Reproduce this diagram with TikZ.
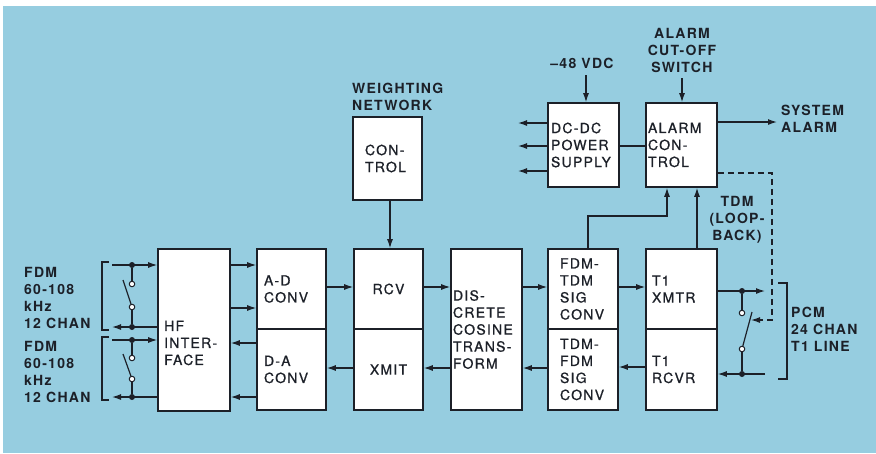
\documentclass[tikz,border=0pt]{standalone}
\usepackage{fontspec}
\setmainfont{TeX Gyre Heros}[LetterSpace=9]
\newfontfamily\boxfont{TeX Gyre Heros}[LetterSpace=9, FakeBold=0.9]
\usetikzlibrary{arrows.meta}
\definecolor{bgblue}{RGB}{150,205,224}
\definecolor{ink}{RGB}{28,32,40}
\tikzset{
  box/.style={draw=ink, line width=1.6pt, fill=white, inner ysep=0pt, align=left, text=ink,
    font=\boxfont\fontsize{14}{17}\selectfont},
  boxtxt/.style={text=ink, inner sep=0pt, align=left, font=\boxfont\fontsize{14}{17}\selectfont},
  lbl/.style={text=ink, font=\fontsize{14}{17}\selectfont\bfseries, inner sep=0pt, align=left},
  ln/.style={draw=ink, line width=1.2pt},
  arr/.style={ln, -{Latex[length=9pt,width=6pt]}},
  dot/.style={circle, fill=ink, inner sep=0pt, minimum size=6pt},
  ocirc/.style={circle, draw=ink, fill=white, line width=1pt, inner sep=0pt, minimum size=5.5pt},
}
\begin{document}
\begin{tikzpicture}[x=1pt,y=-1pt]
\useasboundingbox (0,0) rectangle (876,453);
\fill[white] (0,0) rectangle (876,453);
\fill[bgblue] (3,6) rectangle (876,453);

% boxes
\node[box, minimum width=72pt, minimum height=162pt] (hf) at (194,330) {};
\node[boxtxt, anchor=west] (hft) at (164,343) {HF\\INTER-\\FACE};
\node[box, minimum width=69pt, minimum height=80pt, text width=55pt, inner xsep=7pt] (ad) at (291.5,289) {A-D\\CONV};
\node[box, minimum width=69pt, minimum height=81pt, text width=55pt, inner xsep=7pt] (da) at (291.5,369.5) {D-A\\CONV};
\node[box, minimum width=69pt, minimum height=80pt, text width=55pt, inner xsep=7pt, align=center] (rcv) at (388.5,289) {RCV};
\node[box, minimum width=69pt, minimum height=81pt, text width=55pt, inner xsep=7pt, align=center] (xmit) at (388.5,369.5) {XMIT};
\node[box, minimum width=71pt, minimum height=161pt, text width=67pt, inner xsep=2pt] (dct) at (486.5,329.5) {DIS-\\CRETE\\COSINE\\TRANS-\\FORM};
\node[box, minimum width=70pt, minimum height=80pt, text width=46pt, inner xsep=12pt] (ft) at (583,289) {FDM-\\TDM\\SIG\\CONV};
\node[box, minimum width=70pt, minimum height=81pt, text width=46pt, inner xsep=12pt] (tf) at (583,369.5) {TDM-\\FDM\\SIG\\CONV};
\node[box, minimum width=71pt, minimum height=80pt, text width=59pt, inner xsep=6pt] (xmtr) at (681.5,289) {T1\\XMTR};
\node[box, minimum width=71pt, minimum height=81pt, text width=59pt, inner xsep=6pt] (rcvr) at (681.5,369.5) {T1\\RCVR};
\node[box, minimum width=69pt, minimum height=83pt, text width=45pt, inner xsep=12pt] (ctl) at (387.5,158.5) {CON-\\TROL};
\node[box, minimum width=71pt, minimum height=84pt, text width=65pt, inner xsep=3pt] (dcdc) at (583.5,145) {DC-DC\\POWER\\SUPPLY};
\node[box, minimum width=71pt, minimum height=84pt, text width=67pt, inner xsep=2pt] (alarm) at (681.5,145) {ALARM\\CON-\\TROL};

% labels
\node[lbl, anchor=west] (fdm1) at (24,297.5) {FDM\\60-108\\kHz\\12 CHAN};
\node[lbl, anchor=west] (fdm2) at (24,371.5) {FDM\\60-108\\kHz\\12 CHAN};
\node[lbl, anchor=west] (wn) at (352,97) {WEIGHTING\\NETWORK};
\node[lbl] (vdc) at (582,63) {–48 VDC};
\node[lbl, align=center] (acs) at (682,50) {ALARM\\CUT-OFF\\SWITCH};
\node[lbl, anchor=west] (sys) at (781,119) {SYSTEM\\ALARM};
\node[lbl, align=center] (tdm) at (737,220) {TDM\\(LOOP-\\BACK)};
\node[lbl, anchor=west] (pcm) at (791,329) {PCM\\24 CHAN\\T1 LINE};

% box-to-box connectors
\draw[arr] (hf.east |- 0,265) -- (ad.west |- 0,265);
\draw[arr] (hf.east |- 0,308) -- (ad.west |- 0,308);
\draw[arr] (da.west |- 0,343) -- (hf.east |- 0,343);
\draw[arr] (da.west |- 0,397) -- (hf.east |- 0,397);
\draw[arr] (ad.east |- 0,287) -- (rcv.west |- 0,287);
\draw[arr] (rcv.east |- 0,287) -- (dct.west |- 0,287);
\draw[arr] (dct.east |- 0,287) -- (ft.west |- 0,287);
\draw[arr] (ft.east |- 0,287) -- (xmtr.west |- 0,287);
\draw[arr] (rcvr.west |- 0,367) -- (tf.east |- 0,367);
\draw[arr] (tf.west |- 0,368) -- (dct.east |- 0,368);
\draw[arr] (dct.west |- 0,368) -- (xmit.east |- 0,368);
\draw[arr] (xmit.west |- 0,368) -- (da.east |- 0,368);
\draw[arr] (ctl.south -| 390,0) -- (rcv.north -| 390,0);
\draw[arr] (ft.north -| 588,0) |- (667,216) -- (alarm.south -| 667,0);
\draw[arr] (xmtr.north -| 697,0) -- (alarm.south -| 697,0);
\draw[ln] (dcdc.east |- 0,146) -- (alarm.west |- 0,146);

% power / alarm I/O
\coordinate (p1) at (518,123);
\coordinate (p2) at (518,146);
\coordinate (p3) at (518,171);
\draw[arr] (dcdc.west |- p1) -- (p1);
\draw[arr] (dcdc.west |- p2) -- (p2);
\draw[arr] (dcdc.west |- p3) -- (p3);
\coordinate (vin) at (586,75);
\draw[arr] (vin) -- (dcdc.north -| vin);
\coordinate (sw) at (682,78);
\draw[arr] (sw) -- (alarm.north -| sw);
\coordinate (sa) at (777,122);
\draw[arr] (alarm.east |- sa) -- (sa);

% left FDM ports
\coordinate (i1) at (112,265);
\coordinate (o1) at (112,327);
\coordinate (i2) at (112,340);
\coordinate (o2) at (112,397);
\draw[arr] (i1) -- (i1 -| hf.west);
\draw[arr] (o1 -| hf.west) -- (o1);
\draw[arr] (i2) -- (i2 -| hf.west);
\draw[arr] (o2 -| hf.west) -- (o2);
\node[dot] (d1) at (132,265) {};
\node[dot] (d2) at (132,327) {};
\node[dot] (d3) at (132,340) {};
\node[dot] (d4) at (132,397) {};
\node[ocirc] (c1) at (132,284) {};
\node[ocirc] (c2) at (132,307) {};
\node[ocirc] (c3) at (132,358) {};
\node[ocirc] (c4) at (132,379) {};
\coordinate (b1) at (123,280);
\coordinate (b2) at (123,354);
\draw[ln] (d1) -- (c1);
\draw[ln] (c2) -- (d2);
\draw[ln] (c2) -- (b1);
\draw[ln] (d3) -- (c3);
\draw[ln] (c4) -- (d4);
\draw[ln] (c4) -- (b2);
\draw[ln] (109,262) -- (102,262) -- (102,330) -- (109,330);
\draw[ln] (109,337) -- (102,337) -- (102,400) -- (109,400);

% right T1 line ports
\coordinate (xo) at (765,291);
\coordinate (ri) at (765,374);
\draw[arr] (xmtr.east |- xo) -- (xo);
\draw[arr] (ri) -- (ri -| rcvr.east);
\node[dot] (d5) at (742,291) {};
\node[dot] (d6) at (742,374) {};
\node[ocirc] (c5) at (742,313) {};
\node[ocirc] (c6) at (742,349) {};
\coordinate (br) at (752,312);
\draw[ln] (d5) -- (c5);
\draw[ln] (c6) -- (d6);
\draw[ln] (c6) -- (br);
\coordinate (lb) at (751,320);
\draw[arr, dash pattern=on 6pt off 4pt] (alarm.east |- 0,173) -- (772,173) -- (772,320) -- (lb);
\draw[ln] (778,283) -- (787,283) -- (787,379) -- (778,379);
\end{tikzpicture}
\end{document}
